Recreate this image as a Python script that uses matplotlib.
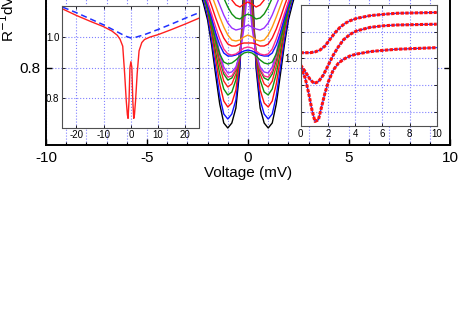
import numpy as np
import matplotlib
matplotlib.use('Agg')
import matplotlib.pyplot as plt
from matplotlib.ticker import MultipleLocator, FixedLocator, FixedFormatter

plt.rcParams['font.family'] = ['Liberation Sans', 'DejaVu Sans']
plt.rcParams['axes.unicode_minus'] = False

# ---------------- main panel data (positive-bias half; curves are symmetric) ----------------
bias_half = [0.0, 0.2, 0.4, 0.6, 0.8, 1.0, 1.2, 1.4, 1.6, 1.8, 2.0, 2.2, 2.4, 2.6, 3.0]

curve_black   = [1.25, 1.02, 0.80, 0.70, 0.6625, 0.65, 0.6625, 0.71, 0.7825, 0.8575, 0.92, 0.96, 0.995, 1.025, 1.08]
curve_blue1   = [1.22, 0.99, 0.81, 0.72, 0.685, 0.6725, 0.685, 0.73, 0.80, 0.87, 0.93, 0.97, 1.0025, 1.0325, 1.08]
curve_red1    = [1.18, 0.97, 0.825, 0.745, 0.7125, 0.7025, 0.7175, 0.76, 0.8225, 0.8875, 0.9425, 0.98, 1.01, 1.0375, 1.085]
curve_green1  = [1.15, 0.95, 0.835, 0.77, 0.74, 0.7325, 0.7475, 0.785, 0.84, 0.90, 0.95, 0.985, 1.015, 1.04, 1.085]
curve_red2    = [1.12, 0.935, 0.84, 0.785, 0.76, 0.7525, 0.7675, 0.805, 0.855, 0.91, 0.955, 0.9875, 1.0175, 1.0425, 1.085]
curve_green2  = [1.0825, 0.92, 0.84, 0.795, 0.775, 0.77, 0.785, 0.82, 0.8675, 0.9175, 0.96, 0.99, 1.02, 1.045, 1.085]
curve_pink1   = [1.045, 0.91, 0.8375, 0.7975, 0.78, 0.7775, 0.7925, 0.8275, 0.875, 0.9225, 0.9625, 0.9925, 1.02, 1.045, 1.085]
curve_purple1 = [1.0075, 0.90, 0.835, 0.8025, 0.79, 0.7875, 0.8025, 0.8375, 0.8825, 0.9275, 0.965, 0.995, 1.0225, 1.045, 1.085]
curve_green3  = [0.84, 0.8375, 0.83, 0.82, 0.8125, 0.81, 0.815, 0.835, 0.87, 0.91, 0.9475, 0.98, 1.0075, 1.0325, 1.08]
curve_blue2   = [0.845, 0.8425, 0.8375, 0.8325, 0.83, 0.83, 0.8375, 0.8575, 0.8875, 0.9225, 0.9575, 0.9875, 1.015, 1.04, 1.08]
curve_pink2   = [0.8525, 0.85, 0.8425, 0.835, 0.8325, 0.835, 0.8475, 0.8725, 0.9025, 0.935, 0.965, 0.9925, 1.02, 1.0425, 1.08]
curve_red3    = [0.8625, 0.8625, 0.86, 0.855, 0.855, 0.86, 0.875, 0.8975, 0.925, 0.955, 0.9825, 1.0075, 1.03, 1.05, 1.085]
curve_orange  = [0.8825, 0.8775, 0.87, 0.8675, 0.87, 0.8825, 0.9025, 0.9275, 0.955, 0.9825, 1.0075, 1.03, 1.05, 1.07, 1.09]
curve_purple2 = [0.9075, 0.9025, 0.8975, 0.895, 0.90, 0.9125, 0.9325, 0.9575, 0.9825, 1.0075, 1.03, 1.05, 1.07, 1.0875, 1.11]
curve_green4  = [0.935, 0.93, 0.9225, 0.925, 0.935, 0.9525, 0.975, 0.9975, 1.02, 1.04, 1.0575, 1.07, 1.08, 1.09, 1.11]
curve_red4    = [0.965, 0.96, 0.9525, 0.9575, 0.97, 0.99, 1.01, 1.03, 1.05, 1.065, 1.08, 1.09, 1.10, 1.11, 1.12]

main_curves = [
    (curve_black, '#000000'), (curve_blue1, '#1010ff'), (curve_red1, '#ff1010'),
    (curve_green1, '#109010'), (curve_red2, '#ff2020'), (curve_green2, '#109010'),
    (curve_pink1, '#ff2a8a'), (curve_purple1, '#9a30ff'),
    (curve_green3, '#109010'), (curve_blue2, '#1010ff'), (curve_pink2, '#ff2a8a'),
    (curve_red3, '#ff1010'), (curve_orange, '#ff9a10'), (curve_purple2, '#9a30ff'),
    (curve_green4, '#109010'), (curve_red4, '#ff1010'),
]

main_xticks = [-10, -5, 0, 5, 10]
main_xticklabels = ['-10', '-5', '0', '5', '10']
main_yticks = [0.8, 1.0, 1.2]
main_yticklabels = ['0.8', '1.0', '1.2']

# ---------------- left inset data ----------------
in1_bias_red = [-25, -20, -15, -10, -7, -5, -4, -3, -2.3, -1.7, -1.3, -1.05, -0.7, -0.35, 0,
                0.35, 0.7, 1.05, 1.3, 1.7, 2.3, 3, 4, 5, 7, 10, 15, 20, 25]
in1_red = [1.092, 1.071, 1.052, 1.034, 1.020, 1.006, 0.993, 0.970, 0.88, 0.79, 0.745, 0.733, 0.79, 0.90, 0.919,
           0.90, 0.79, 0.733, 0.745, 0.79, 0.88, 0.955, 0.982, 0.992, 1.000, 1.008, 1.025, 1.043, 1.062]
in1_bias_blue = [-25, -20, -15, -10, -5, -2, 0, 2, 5, 10, 15, 20, 25]
in1_blue = [1.098, 1.080, 1.060, 1.040, 1.017, 1.003, 0.997, 1.000, 1.008, 1.025, 1.043, 1.062, 1.080]
in1_xticks = [-20, -10, 0, 10, 20]
in1_yticks = [0.8, 0.9, 1.0]
in1_yticklabels = ['0.8', '', '1.0']

# ---------------- right inset data ----------------
in2_bias_top = [0, 0.70, 1.06, 1.43, 1.79, 2.16, 2.53, 2.89, 3.26, 3.63, 4.12, 5.09, 6.07, 7.05, 8.03, 9.98]
in2_top = [1.021, 1.021, 1.024, 1.031, 1.046, 1.071, 1.096, 1.116, 1.131, 1.141, 1.150, 1.160, 1.165, 1.169, 1.170, 1.172]
in2_bias_mid = [0, 0.35, 0.70, 0.99, 1.31, 1.67, 2.04, 2.40, 2.77, 3.14, 3.63, 4.12, 5.09, 6.07, 7.05, 8.03, 9.98]
in2_mid = [0.975, 0.950, 0.921, 0.906, 0.912, 0.937, 0.975, 1.012, 1.043, 1.069, 1.090, 1.103, 1.116, 1.122, 1.125, 1.126, 1.128]
in2_bias_bot = [0, 0.35, 0.60, 0.84, 1.06, 1.31, 1.55, 1.79, 2.04, 2.40, 2.77, 3.14, 3.63, 4.12, 5.09, 6.07, 7.05, 8.03, 9.98]
in2_bot = [0.969, 0.925, 0.869, 0.806, 0.763, 0.769, 0.819, 0.869, 0.912, 0.956, 0.981, 0.996, 1.009, 1.016, 1.025, 1.030, 1.034, 1.036, 1.040]
in2_xticks = [0, 2, 4, 6, 8, 10]
in2_yticks = [0.8, 0.9, 1.0, 1.1]
in2_yticklabels = ['', '', '1.0', '']

GRID = dict(color='#8080ff', linestyle=':', linewidth=0.8)

fig = plt.figure(figsize=(4.63, 3.22), dpi=100)
fig.patch.set_facecolor('white')

# main axes (top extends beyond the figure, as in the reference crop)
ax = fig.add_axes([46 / 463, 1 - 145 / 322, 404 / 463, 270 / 322])
ax.set_xlim(-10, 10)
ax.set_ylim(0.6075, 1.2825)
bh = np.array(bias_half)
for vals, col in main_curves:
    v = np.array(vals)
    x = np.concatenate([-bh[::-1], bh[1:]])
    y = np.concatenate([v[::-1], v[1:]])
    ax.plot(x, y, color=col, lw=1.0)
ax.set_xticks(main_xticks)
ax.set_xticklabels(main_xticklabels)
ax.set_yticks(main_yticks)
ax.set_yticklabels(main_yticklabels)
ax.xaxis.set_minor_locator(MultipleLocator(1))
ax.grid(which='both', axis='x', **GRID)
ax.grid(which='major', axis='y', **GRID)
ax.tick_params(which='both', direction='in', top=True, right=True, labelsize=11, pad=4)
ax.tick_params(which='major', length=4, width=1)
ax.tick_params(which='minor', length=2, width=0.8)
for s in ax.spines.values():
    s.set_linewidth(1.4)
ax.set_xlabel('Voltage (mV)', fontsize=11, labelpad=1)
ax.set_ylabel('R$^{-1}$dV/dI', fontsize=11)
ax.yaxis.set_label_coords(-0.072, 0.5)

# left inset
ax1 = fig.add_axes([62 / 463, 1 - 127.5 / 322, 137 / 463, 121.5 / 322])
ax1.set_xlim(-25.3, 25)
ax1.set_ylim(0.703, 1.102)
ax1.plot(in1_bias_red, in1_red, color='#ff2020', lw=1.0)
ax1.plot(in1_bias_blue, in1_blue, color='#2030ff', lw=1.1, ls=(0, (4, 2.5)))
ax1.xaxis.set_major_locator(FixedLocator(in1_xticks))
ax1.yaxis.set_major_locator(FixedLocator(in1_yticks))
ax1.yaxis.set_major_formatter(FixedFormatter(in1_yticklabels))
ax1.grid(True, **GRID)
ax1.tick_params(direction='in', labelsize=7, pad=2, length=2.5, width=0.6, top=True, right=True)
for s in ax1.spines.values():
    s.set_linewidth(0.8)
    s.set_color('#505050')

# right inset
ax2 = fig.add_axes([300.5 / 463, 1 - 126 / 322, 136.5 / 463, 121 / 322])
ax2.set_xlim(0, 10)
ax2.set_ylim(0.746, 1.2)
for bx, vy in [(in2_bias_top, in2_top), (in2_bias_mid, in2_mid), (in2_bias_bot, in2_bot)]:
    ax2.plot(bx, vy, color='#2030ff', lw=0.9)
    ax2.plot(bx, vy, color='#ff1010', lw=2.2, ls=(0, (1.1, 0.45)))
ax2.xaxis.set_major_locator(FixedLocator(in2_xticks))
ax2.yaxis.set_major_locator(FixedLocator(in2_yticks))
ax2.yaxis.set_major_formatter(FixedFormatter(in2_yticklabels))
ax2.grid(True, **GRID)
ax2.tick_params(direction='in', labelsize=7, pad=2, length=2.5, width=0.6, top=True, right=True)
for s in ax2.spines.values():
    s.set_linewidth(0.8)
    s.set_color('#505050')

fig.savefig('out.png', dpi=100, facecolor='white')
